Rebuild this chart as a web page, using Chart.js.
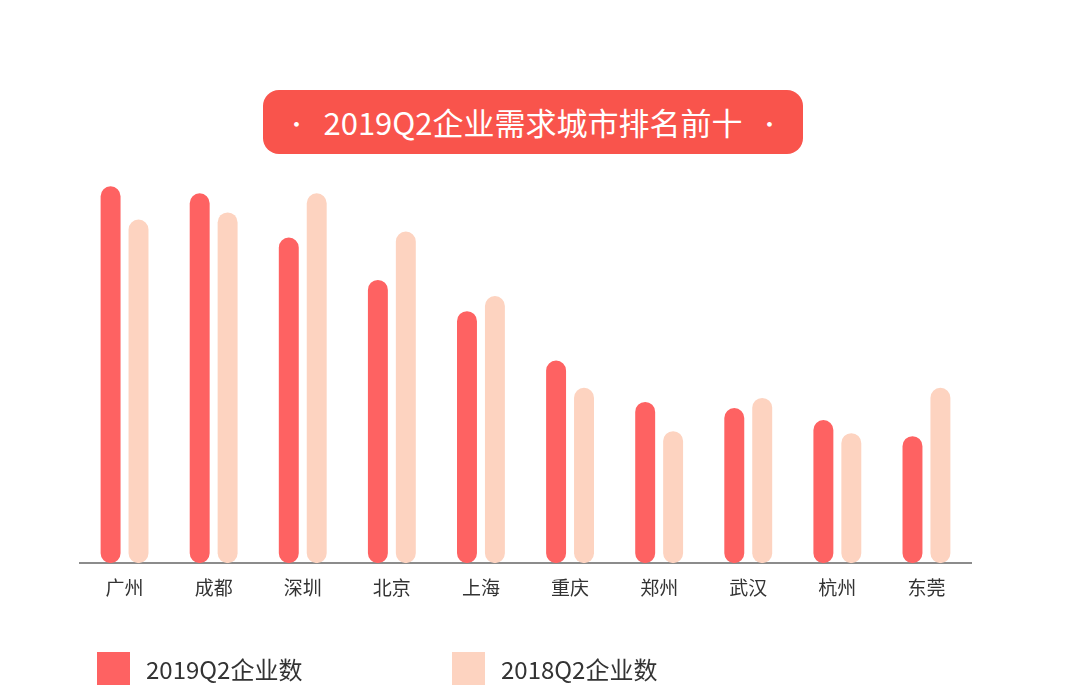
<!DOCTYPE html>
<html>
<head>
<meta charset="utf-8">
<script src="https://cdn.jsdelivr.net/npm/chart.js@4.4.0/dist/chart.umd.min.js"></script>
<style>
  html, body { margin: 0; padding: 0; background: #fff; }
  body { width: 1080px; height: 690px; position: relative; overflow: hidden;
         font-family: "Noto Sans CJK SC", "Noto Sans", sans-serif; }
  #wrap { position: absolute; left: 0; top: 0; width: 1080px; height: 690px; }
  #title { position: absolute; left: 263px; top: 90px; width: 540px; height: 64px;
           background: #f9544c; border-radius: 16px; color: #fff; font-size: 31px;
           white-space: nowrap; line-height: 64px;
           display: flex; align-items: center; justify-content: center; }
  #title .dot { font-size: 22px; margin: 0 16px; }
  .leg { position: absolute; top: 651px; display: flex; align-items: center;
         font-size: 24px; color: #333; white-space: nowrap; }
  .leg i { display: inline-block; width: 33px; height: 33px; margin-right: 16px; }
</style>
</head>
<body>
<div id="wrap"><canvas id="myChart"></canvas></div>
<div id="title"><span class="dot">•</span>2019Q2企业需求城市排名前十<span class="dot">•</span></div>
<div class="leg" style="left:97px"><i style="background:#fe6262"></i>2019Q2企业数</div>
<div class="leg" style="left:452px"><i style="background:#fdd3c0"></i>2018Q2企业数</div>
<script>
// 城市
var cities = ["广州", "成都", "深圳", "北京", "上海", "重庆", "郑州", "武汉", "杭州", "东莞"];
// 柱子高度（图上没有数值，按像素估算）
var values2019 = [374, 367, 323, 281, 250, 201, 160, 154, 142, 126];
var values2018 = [341, 348, 367, 329, 265, 174, 131, 164, 129, 174];

const ctx = document.getElementById("myChart").getContext("2d");

var myChart = new Chart(ctx, {
  type: "bar",
  data: {
    labels: cities,
    datasets: [
      {
        label: "2019Q2企业数",
        data: values2019,
        backgroundColor: "#fe6262",
        borderRadius: 10,
        borderSkipped: false,
      },
      {
        label: "2018Q2企业数",
        data: values2018,
        backgroundColor: "#fdd3c0",
        borderRadius: 10,
        borderSkipped: false,
      },
    ],
  },
  options: {
    responsive: true,
    maintainAspectRatio: false,
    animation: false,
    categoryPercentage: 0.627,
    barPercentage: 0.714,
    layout: {
      padding: { left: 80, right: 109, top: 160, bottom: 86 },
    },
    plugins: {
      legend: { display: false },
      tooltip: { enabled: false },
    },
    scales: {
      x: {
        grid: { display: false },
        border: { display: true, color: "#8c8c8c", width: 2 },
        ticks: {
          color: "#333",
          padding: 5,
          font: { size: 19, family: "'Noto Sans CJK SC', sans-serif" },
        },
      },
      y: {
        display: false,
        min: 0,
        max: 400,
      },
    },
  },
});
</script>
</body>
</html>
